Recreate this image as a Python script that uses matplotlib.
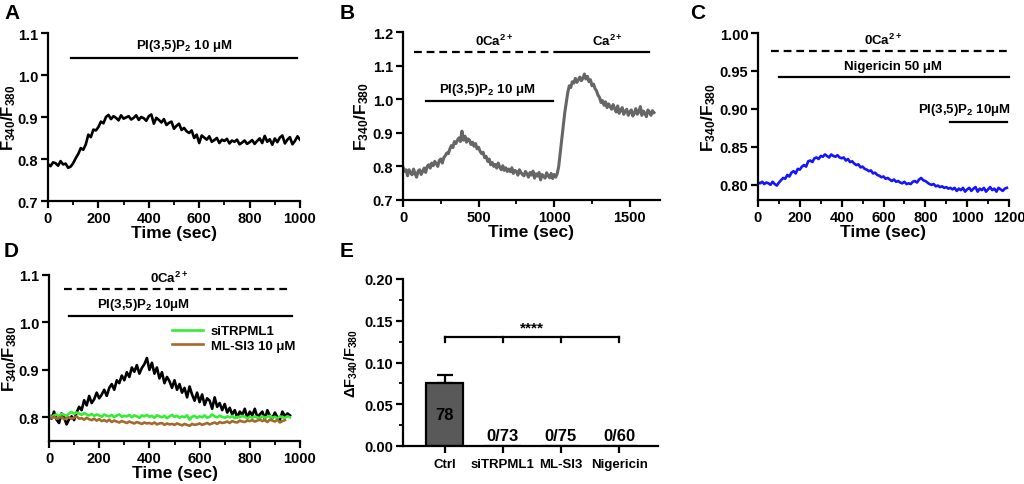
import numpy as np
import matplotlib
matplotlib.use("Agg")
import matplotlib.pyplot as plt
from matplotlib.ticker import MultipleLocator

plt.rcParams['font.family'] = ['Liberation Sans', 'DejaVu Sans']
plt.rcParams['font.weight'] = 'bold'
plt.rcParams['axes.labelweight'] = 'bold'
plt.rcParams['mathtext.fontset'] = 'custom'
plt.rcParams['mathtext.rm'] = 'Liberation Sans:bold'
plt.rcParams['mathtext.bf'] = 'Liberation Sans:bold'
plt.rcParams['mathtext.it'] = 'Liberation Sans:bold:italic'
plt.rcParams['mathtext.default'] = 'bf'

# --- dados (amostragem a cada 10 s) ---
STEP = 10

trace_a = [
    0.788, 0.783, 0.792, 0.79, 0.784, 0.795, 0.787, 0.789, 0.779, 0.782,
    0.79, 0.802, 0.812, 0.826, 0.822, 0.835, 0.858, 0.852, 0.87, 0.868,
    0.876, 0.889, 0.885, 0.9, 0.905, 0.895, 0.902, 0.898, 0.892, 0.904,
    0.896, 0.899, 0.902, 0.894, 0.898, 0.904, 0.893, 0.9, 0.897, 0.891,
    0.902, 0.906, 0.884, 0.898, 0.893, 0.887, 0.895, 0.881, 0.886, 0.889,
    0.872, 0.879, 0.884, 0.869, 0.874, 0.866, 0.862, 0.868, 0.85, 0.858,
    0.838, 0.856, 0.851, 0.846, 0.854, 0.841, 0.845, 0.85, 0.838, 0.846,
    0.843, 0.848, 0.837, 0.844, 0.841, 0.846, 0.835, 0.839, 0.844, 0.836,
    0.84, 0.845, 0.836, 0.843, 0.849, 0.838, 0.855, 0.841, 0.847, 0.834,
    0.849, 0.84, 0.851, 0.856, 0.837, 0.846, 0.852, 0.835, 0.843, 0.854,
    0.846]

trace_b = [
    0.798, 0.785, 0.79, 0.772, 0.79, 0.781, 0.775, 0.792, 0.778, 0.768,
    0.786, 0.79, 0.776, 0.785, 0.795, 0.782, 0.8, 0.805, 0.795, 0.81,
    0.802, 0.815, 0.808, 0.8, 0.818, 0.822, 0.81, 0.826, 0.832, 0.84,
    0.838, 0.852, 0.862, 0.856, 0.874, 0.868, 0.878, 0.885, 0.874, 0.905,
    0.878, 0.89, 0.872, 0.882, 0.878, 0.865, 0.872, 0.86, 0.868, 0.852,
    0.857, 0.845, 0.838, 0.842, 0.826, 0.83, 0.815, 0.822, 0.805, 0.812,
    0.8, 0.806, 0.795, 0.81, 0.798, 0.79, 0.802, 0.788, 0.796, 0.785,
    0.792, 0.784, 0.796, 0.779, 0.788, 0.785, 0.774, 0.79, 0.782, 0.776,
    0.772, 0.785, 0.778, 0.768, 0.782, 0.774, 0.786, 0.765, 0.778, 0.771,
    0.782, 0.76, 0.776, 0.77, 0.765, 0.781, 0.772, 0.766, 0.779, 0.764,
    0.776, 0.768, 0.778, 0.8, 0.84, 0.88, 0.92, 0.96, 0.99, 1.02,
    1.04, 1.035, 1.052, 1.048, 1.062, 1.05, 1.058, 1.066, 1.055, 1.062,
    1.075, 1.06, 1.068, 1.052, 1.058, 1.04, 1.045, 1.032, 1.025, 1.012,
    1.005, 0.99, 0.996, 0.982, 0.992, 0.975, 0.986, 0.978, 0.97, 0.984,
    0.972, 0.962, 0.98, 0.958, 0.968, 0.975, 0.955, 0.964, 0.97, 0.952,
    0.962, 0.968, 0.95, 0.958, 0.972, 0.955, 0.962, 0.978, 0.952, 0.965,
    0.958, 0.948, 0.968, 0.962, 0.952, 0.966, 0.96]

trace_c = [
    0.803, 0.802, 0.804, 0.801, 0.803, 0.802, 0.8, 0.804, 0.801, 0.799,
    0.803, 0.806, 0.809, 0.808, 0.813, 0.811, 0.816, 0.818, 0.815, 0.821,
    0.82, 0.824, 0.826, 0.824, 0.831, 0.832, 0.83, 0.835, 0.836, 0.834,
    0.838, 0.837, 0.84, 0.838, 0.836, 0.84, 0.838, 0.837, 0.839, 0.836,
    0.835, 0.836, 0.832, 0.834, 0.83, 0.831, 0.828, 0.826, 0.827, 0.823,
    0.824, 0.821, 0.82, 0.818, 0.819, 0.815, 0.816, 0.813, 0.812, 0.81,
    0.811, 0.808, 0.809, 0.807, 0.805, 0.807, 0.804, 0.805, 0.803, 0.802,
    0.804, 0.801, 0.802, 0.801, 0.804, 0.805, 0.803, 0.807, 0.809, 0.806,
    0.805, 0.803, 0.801, 0.8, 0.801, 0.798, 0.799, 0.797, 0.798, 0.796,
    0.797, 0.795, 0.796, 0.794, 0.796, 0.792, 0.795, 0.793, 0.796, 0.791,
    0.794, 0.796, 0.792, 0.795, 0.797, 0.791, 0.795, 0.793, 0.796, 0.791,
    0.794, 0.797, 0.793, 0.795, 0.791, 0.796, 0.794, 0.792, 0.795, 0.796]

trace_d_ctrl = [
    0.805, 0.797, 0.812, 0.795, 0.788, 0.808, 0.8, 0.785, 0.796, 0.802,
    0.794, 0.81, 0.822, 0.815, 0.836, 0.825, 0.845, 0.83, 0.838, 0.852,
    0.84, 0.848, 0.858, 0.845, 0.862, 0.87, 0.858, 0.878, 0.872, 0.888,
    0.878, 0.895, 0.885, 0.905, 0.896, 0.91, 0.892, 0.904, 0.912, 0.925,
    0.9, 0.915, 0.892, 0.905, 0.882, 0.895, 0.872, 0.885, 0.876, 0.862,
    0.878, 0.858, 0.87, 0.852, 0.862, 0.842, 0.865, 0.848, 0.835, 0.852,
    0.832, 0.848, 0.826, 0.84, 0.835, 0.818, 0.842, 0.822, 0.83, 0.815,
    0.828, 0.81, 0.82, 0.806, 0.815, 0.8, 0.812, 0.805, 0.818, 0.798,
    0.812, 0.804, 0.818, 0.8, 0.806, 0.812, 0.796, 0.815, 0.803, 0.798,
    0.81, 0.8, 0.795, 0.812, 0.802, 0.808, 0.804]

trace_d_si = [
    0.803, 0.8, 0.804, 0.806, 0.802, 0.807, 0.805, 0.803, 0.808, 0.811,
    0.807, 0.81, 0.808, 0.805, 0.809, 0.806, 0.804, 0.807, 0.803, 0.806,
    0.804, 0.801, 0.806, 0.803, 0.802, 0.805, 0.8, 0.804, 0.806, 0.801,
    0.803, 0.802, 0.805, 0.8, 0.804, 0.802, 0.799, 0.804, 0.802, 0.805,
    0.801, 0.803, 0.799, 0.804, 0.802, 0.8, 0.803, 0.798, 0.802, 0.805,
    0.801, 0.803, 0.799, 0.802, 0.8, 0.804, 0.795, 0.801, 0.803, 0.799,
    0.802, 0.8, 0.804, 0.799, 0.801, 0.806, 0.802, 0.8, 0.803, 0.801,
    0.799, 0.802, 0.8, 0.803, 0.798, 0.801, 0.8, 0.803, 0.801, 0.798,
    0.801, 0.799, 0.802, 0.8, 0.798, 0.802, 0.799, 0.801, 0.803, 0.799,
    0.801, 0.798, 0.802, 0.8, 0.799, 0.802, 0.8]

trace_d_mlsi = [
    0.8, 0.798, 0.801, 0.797, 0.799, 0.801, 0.796, 0.798, 0.8, 0.797,
    0.799, 0.802, 0.797, 0.798, 0.795, 0.799, 0.796, 0.794, 0.797, 0.793,
    0.796, 0.792, 0.794, 0.791, 0.795, 0.79, 0.793, 0.791, 0.789, 0.792,
    0.79, 0.788, 0.791, 0.789, 0.787, 0.79, 0.788, 0.786, 0.789, 0.787,
    0.788, 0.786, 0.789, 0.785, 0.787, 0.788, 0.784, 0.787, 0.785, 0.786,
    0.784, 0.787, 0.785, 0.783, 0.786, 0.784, 0.782, 0.786, 0.784, 0.785,
    0.787, 0.784, 0.786, 0.788, 0.785, 0.787, 0.789, 0.786, 0.79, 0.788,
    0.789, 0.791, 0.788, 0.792, 0.79, 0.789, 0.793, 0.791, 0.79, 0.793,
    0.792, 0.794, 0.791, 0.793, 0.795, 0.792, 0.794, 0.79, 0.795, 0.793,
    0.791, 0.795, 0.789, 0.792, 0.794]

# painel E
grupos = ['Ctrl', 'siTRPML1', 'ML-SI3', 'Nigericin']
delta_media = [0.076, 0.0, 0.0, 0.0]
delta_sem = [0.009, 0.0, 0.0, 0.0]
n_celulas = ['78', '0/73', '0/75', '0/60']

# períodos de tratamento (s) e altura das barras
bar_a_pi = (90, 990, 1.04)
bar_b_0ca = (70, 1050, 1.14)
bar_b_ca = (1050, 1630, 1.14)
bar_b_pi = (150, 990, 0.995)
bar_c_0ca = (60, 1200, 0.976)
bar_c_nig = (100, 1200, 0.942)
bar_c_pi = (920, 1190, 0.883)
bar_d_0ca = (60, 970, 1.071)
bar_d_pi = (80, 970, 1.014)

W, H = 1024, 485
fig = plt.figure(figsize=(W / 100, H / 100), dpi=100)


def eixo(x0, x1, ytop, ybot):
    return fig.add_axes([x0 / W, 1 - ybot / H, (x1 - x0) / W, (ybot - ytop) / H])


def estilo(ax):
    for s in ['top', 'right']:
        ax.spines[s].set_visible(False)
    for s in ['left', 'bottom']:
        ax.spines[s].set_linewidth(1.6)
    ax.tick_params(which='major', width=1.6, length=5, labelsize=10.5, pad=2)
    ax.tick_params(which='minor', width=1.3, length=3)
    for lab in ax.get_xticklabels() + ax.get_yticklabels():
        lab.set_fontweight('bold')


def barra(ax, seg, dashed=False):
    x0, x1, y = seg
    ls = (0, (3.5, 2.2)) if dashed else '-'
    ax.plot([x0, x1], [y, y], color='black', lw=1.6, ls=ls, clip_on=False)


def tempo(v):
    return STEP * np.arange(len(v))


ylab = 'F$_{340}$/F$_{380}$'
fs_txt = 9.5
fs_lab = 12.5
ca0 = '0Ca$^{2+}$'
LW = 1.9

# ---- A ----
axA = eixo(48, 300, 34, 202)
axA.plot(tempo(trace_a), trace_a, color='black', lw=LW)
axA.set_xlim(0, 1000)
axA.set_ylim(0.7, 1.1)
axA.set_xticks(range(0, 1001, 200))
axA.xaxis.set_minor_locator(MultipleLocator(100))
axA.set_yticks([0.7, 0.8, 0.9, 1.0, 1.1])
barra(axA, bar_a_pi)
axA.text(540, 1.052, 'PI(3,5)P$_2$ 10 μM', ha='center', va='bottom', fontsize=fs_txt, fontweight='bold')
axA.set_xlabel('Time (sec)', fontsize=fs_lab, labelpad=0)
axA.set_ylabel(ylab, fontsize=12, labelpad=0)
estilo(axA)

# ---- B ----
axB = eixo(403, 660, 33, 201)
axB.plot(tempo(trace_b), trace_b, color='#666666', lw=2.2)
axB.set_xlim(0, 1700)
axB.set_ylim(0.7, 1.2)
axB.set_xticks([0, 500, 1000, 1500])
axB.xaxis.set_minor_locator(MultipleLocator(250))
axB.set_yticks([0.7, 0.8, 0.9, 1.0, 1.1, 1.2])
barra(axB, bar_b_0ca, dashed=True)
barra(axB, bar_b_ca)
barra(axB, bar_b_pi)
axB.text(600, 1.152, ca0, ha='center', va='bottom', fontsize=fs_txt, fontweight='bold')
axB.text(1350, 1.152, 'Ca$^{2+}$', ha='center', va='bottom', fontsize=fs_txt, fontweight='bold')
axB.text(560, 1.008, 'PI(3,5)P$_2$ 10 μM', ha='center', va='bottom', fontsize=fs_txt, fontweight='bold')
axB.set_xlabel('Time (sec)', fontsize=fs_lab, labelpad=0)
axB.set_ylabel(ylab, fontsize=fs_lab, labelpad=1)
estilo(axB)

# ---- C ----
axC = eixo(758, 1009, 34, 201)
axC.plot(tempo(trace_c), trace_c, color='#1414ff', lw=LW)
axC.set_xlim(0, 1200)
axC.set_ylim(0.78, 1.0)
axC.set_xticks(range(0, 1201, 200))
axC.xaxis.set_minor_locator(MultipleLocator(100))
axC.set_yticks([0.80, 0.85, 0.90, 0.95, 1.00])
axC.set_yticklabels(['0.80', '0.85', '0.90', '0.95', '1.00'])
barra(axC, bar_c_0ca, dashed=True)
barra(axC, bar_c_nig)
barra(axC, bar_c_pi)
axC.text(600, 0.982, ca0, ha='center', va='bottom', fontsize=fs_txt, fontweight='bold')
axC.text(645, 0.948, 'Nigericin 50 μM', ha='center', va='bottom', fontsize=fs_txt, fontweight='bold')
axC.text(985, 0.889, 'PI(3,5)P$_2$ 10μM', ha='center', va='bottom', fontsize=fs_txt, fontweight='bold')
axC.set_xlabel('Time (sec)', fontsize=fs_lab, labelpad=0)
axC.set_ylabel(ylab, fontsize=fs_lab, labelpad=1)
estilo(axC)

# ---- D ----
axD = eixo(49, 300, 276, 442)
axD.plot(tempo(trace_d_ctrl), trace_d_ctrl, color='black', lw=LW)
l_si, = axD.plot(tempo(trace_d_si), trace_d_si, color='#33ee33', lw=LW, label='siTRPML1')
l_ml, = axD.plot(tempo(trace_d_mlsi), trace_d_mlsi, color='#a5692c', lw=LW, label='ML-SI3 10 μM')
axD.set_xlim(0, 1000)
axD.set_ylim(0.75, 1.1)
axD.set_xticks(range(0, 1001, 200))
axD.xaxis.set_minor_locator(MultipleLocator(100))
axD.set_yticks([0.8, 0.9, 1.0, 1.1])
barra(axD, bar_d_0ca, dashed=True)
barra(axD, bar_d_pi)
axD.text(480, 1.078, ca0, ha='center', va='bottom', fontsize=fs_txt, fontweight='bold')
axD.text(375, 1.021, 'PI(3,5)P$_2$ 10μM', ha='center', va='bottom', fontsize=fs_txt, fontweight='bold')
axD.legend(handles=[l_si, l_ml], loc='upper left', bbox_to_anchor=(0.47, 0.73), frameon=False,
           prop={'size': fs_txt, 'weight': 'bold'}, handlelength=2.3, handletextpad=0.6,
           labelspacing=0.15, borderaxespad=0)
axD.set_xlabel('Time (sec)', fontsize=fs_lab, labelpad=0)
axD.set_ylabel(ylab, fontsize=12, labelpad=0)
estilo(axD)

# ---- E ----
axE = eixo(403, 658, 280, 447)
xpos = np.arange(len(grupos))
axE.bar(xpos, delta_media, width=0.64, color='#595959', edgecolor='black', lw=1.6, zorder=2)
axE.errorbar(xpos[:1], delta_media[:1], yerr=[[0], delta_sem[:1]], fmt='none', ecolor='black',
             elinewidth=1.6, capsize=6, capthick=1.6, zorder=1)
for i, n in enumerate(n_celulas):
    yy = 0.038 if delta_media[i] > 0 else 0.003
    va = 'center' if delta_media[i] > 0 else 'bottom'
    axE.text(xpos[i], yy, n, ha='center', va=va, fontsize=12, fontweight='bold')
axE.plot([xpos[0], xpos[-1]], [0.13, 0.13], color='black', lw=1.6)
for xx in xpos:
    axE.plot([xx, xx], [0.13, 0.125], color='black', lw=1.6)
axE.text(xpos.mean(), 0.134, '****', ha='center', va='bottom', fontsize=11, fontweight='bold')
axE.set_xlim(-0.72, 3.67)
axE.set_ylim(0, 0.2)
axE.set_xticks(xpos)
axE.set_xticklabels(grupos)
axE.set_yticks([0.0, 0.05, 0.10, 0.15, 0.20])
axE.set_yticklabels(['0.00', '0.05', '0.10', '0.15', '0.20'])
axE.yaxis.set_minor_locator(MultipleLocator(0.025))
axE.set_ylabel('ΔF$_{340}$/F$_{380}$', fontsize=10.5, labelpad=3)
estilo(axE)
axE.tick_params(axis='x', length=5, pad=4, labelsize=9.5)

# letras dos painéis
for letra, (px, py) in zip('ABCDE', [(4, 4), (340, 4), (690, 4), (4, 242), (340, 242)]):
    fig.text(px / W, 1 - py / H, letra, fontsize=15, fontweight='bold', va='top', ha='left')

fig.savefig('out.png', dpi=100)
